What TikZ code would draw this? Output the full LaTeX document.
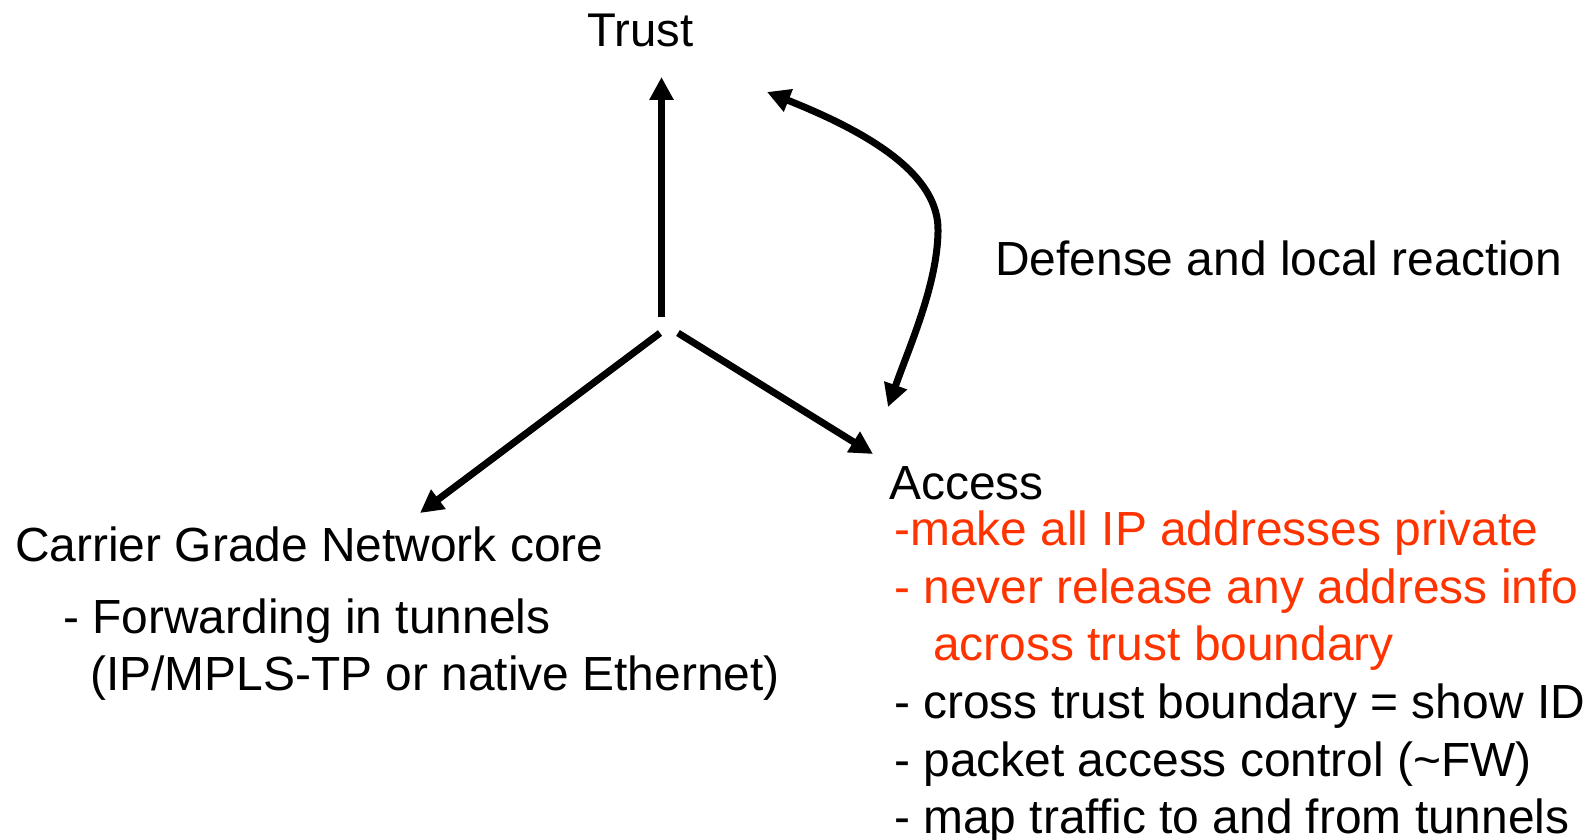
\documentclass[tikz,border=0pt]{standalone}
\usepackage{fontspec}
\setmainfont{Liberation Sans}
\usetikzlibrary{arrows.meta}
\definecolor{accred}{RGB}{255,51,0}
\tikzset{
  lbl/.style={inner sep=0pt, anchor=base west, font=\fontsize{47.9}{56}\selectfont},
  redlbl/.style={lbl, text=accred},
  arr/.style={line width=7pt, -{Triangle[length=23pt,width=23pt]}},
  darr/.style={line width=7pt, {Triangle[length=23pt,width=23pt]}-{Triangle[length=23pt,width=23pt]}}
}
\begin{document}
\begin{tikzpicture}[x=1pt,y=-1pt]
\useasboundingbox (0,0) rectangle (1596,840);
% labels
\node[lbl, font=\fontsize{47.3}{56}\selectfont] (trust) at (587,47) {Trust};
\node[lbl] (defense) at (995,275) {Defense and local reaction};
\node[lbl] (core) at (15,561) {Carrier Grade Network core};
\node[lbl] (fwd) at (63,633) {- Forwarding in tunnels};
\node[lbl] (ipmpls) at (90,690) {(IP/MPLS-TP or native Ethernet)};
\node[lbl] (access) at (889,499) {Access};
\node[redlbl] (make) at (894,545) {-make all IP addresses private};
\node[redlbl] (never) at (894,603) {- never release any address info};
\node[redlbl] (across) at (933,660) {across trust boundary};
\node[lbl] (cross) at (894,718) {- cross trust boundary = show ID};
\node[lbl] (packet) at (894,776) {- packet access control (\textasciitilde FW)};
\node[lbl] (map) at (894,833) {- map traffic to and from tunnels};
% connector end points
\coordinate (cup) at (661.5,317);
\coordinate (tup) at (661.5,77);
\coordinate (cleft) at (660,333);
\coordinate (tleft) at (420,513);
\coordinate (cright) at (678,333);
\coordinate (tright) at (873,454);
\coordinate (ctop) at (767,92);
\coordinate (cmid) at (938,232);
\coordinate (cbot) at (888,407);
% arrows
\draw[arr] (cup) -- (tup);
\draw[arr] (cleft) -- (tleft);
\draw[arr] (cright) -- (tright);
\draw[darr] (ctop) .. controls (870,133) and (940,175) .. (cmid)
  .. controls (937,285) and (910,345) .. (cbot);
\end{tikzpicture}
\end{document}
